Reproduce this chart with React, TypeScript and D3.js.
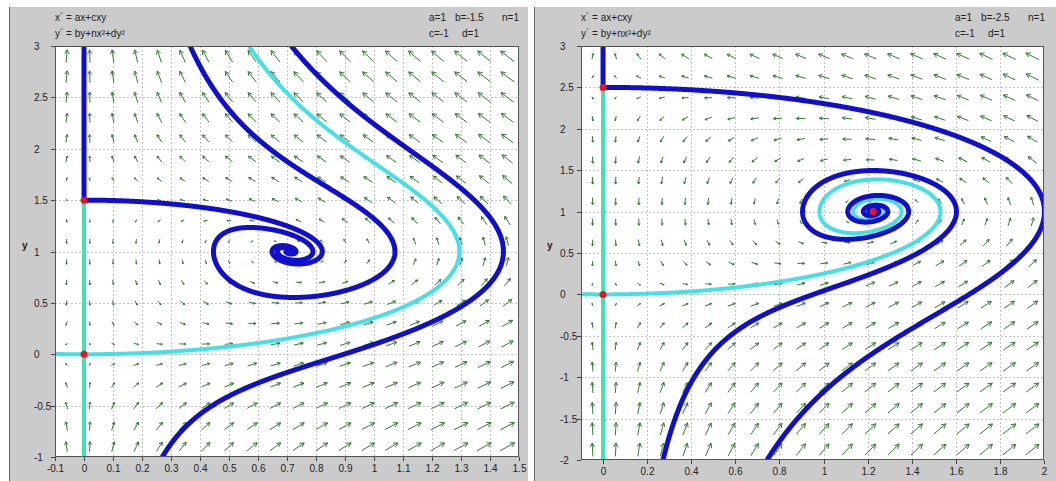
import React, { useRef, useEffect } from "react";
import * as d3 from "d3";

const W = 1056;
const H = 481;

// model: x' = ax + cxy, y' = by + nx^2 + dy^2   -> [a, b, n, c, d]
const leftParams = [1, -1.5, 1, -1, 1];
const rightParams = [1, -2.5, 1, -1, 1];

const leftXDomain = [-0.1, 1.5];
const leftYDomain = [-1, 3];
const rightXDomain = [-0.1, 2];
const rightYDomain = [-2, 3];

const leftXTicks = [-0.1, 0, 0.1, 0.2, 0.3, 0.4, 0.5, 0.6, 0.7, 0.8, 0.9, 1, 1.1, 1.2, 1.3, 1.4, 1.5];
const leftYTicks = [-1, -0.5, 0, 0.5, 1, 1.5, 2, 2.5, 3];
const rightXTicks = [0, 0.2, 0.4, 0.6, 0.8, 1, 1.2, 1.4, 1.6, 1.8, 2];
const rightYTicks = [-2, -1.5, -1, -0.5, 0, 0.5, 1, 1.5, 2, 2.5, 3];

// equilibria marked with red dots
const leftEquilibria = [[0, 0], [0, 1.5]];
const rightEquilibria = [[0, 0], [0, 2.5], [1.2247, 1]];

// invariant line x = 0 drawn in mint
const leftAxisLine = [[0, -1], [0, 1.5]];
const rightAxisLine = [[0, -2], [0, 2.5]];

// trajectory seeds: [x, y, colour kind, direction]
const leftSeeds: [number, number, string, string][] = [
  [-0.0005, 0, "cyan", "fwd"],
  [0.0005, 0, "cyan", "fwd"],
  [0.003, 1.5, "blue", "both"],
  [0.366, 3, "blue", "both"],
  [0.27, -1, "blue", "both"],
];
const rightSeeds: [number, number, string, string][] = [
  [-0.0005, 0, "cyan", "fwd"],
  [0.0005, 0, "cyan", "fwd"],
  [0.003, 2.5, "blue", "both"],
  [0.272, -2, "blue", "both"],
];

const leftLabels = ["a=1", "b=-1.5", "n=1", "c=-1", "d=1"];
const rightLabels = ["a=1", "b=-2.5", "n=1", "c=-1", "d=1"];

const FONT = "'Liberation Sans', Arial, sans-serif";
const colors: Record<string, string> = { blue: "#1010cc", cyan: "#45dfe6" };

type Panel = {
  bx0: number; bx1: number;
  px0: number; px1: number; py0: number; py1: number;
  params: number[]; xd: number[]; yd: number[];
  xt: number[]; yt: number[]; eq: number[][]; axisLine: number[][];
  seeds: [number, number, string, string][]; labels: string[];
  id: string;
};

const panels: Panel[] = [
  {
    bx0: 9, bx1: 528, px0: 55, px1: 519, py0: 46, py1: 457,
    params: leftParams, xd: leftXDomain, yd: leftYDomain, xt: leftXTicks, yt: leftYTicks,
    eq: leftEquilibria, axisLine: leftAxisLine, seeds: leftSeeds, labels: leftLabels, id: "l",
  },
  {
    bx0: 534, bx1: 1056, px0: 581, px1: 1044, py0: 46, py1: 460,
    params: rightParams, xd: rightXDomain, yd: rightYDomain, xt: rightXTicks, yt: rightYTicks,
    eq: rightEquilibria, axisLine: rightAxisLine, seeds: rightSeeds, labels: rightLabels, id: "r",
  },
];

const field = (p: number[]) => (x: number, y: number) => {
  const [a, b, n, c, d] = p;
  return [a * x + c * x * y, b * y + n * x * x + d * y * y];
};

function integrate(f: (x: number, y: number) => number[], x0: number, y0: number, dir: number,
  sx: number, sy: number, xd: number[], yd: number[]) {
  const pts: [number, number][] = [[x0, y0]];
  let x = x0, y = y0, t = 0;
  const xr = xd[1] - xd[0], yr = yd[1] - yd[0];
  for (let i = 0; i < 100000 && t < 60; i++) {
    const k1 = f(x, y);
    const sp = Math.hypot(k1[0] * sx, k1[1] * sy);
    if (sp < 1e-7) break;
    const h = Math.min(0.01, 0.5 / sp) * dir;
    const k2 = f(x + (h / 2) * k1[0], y + (h / 2) * k1[1]);
    const k3 = f(x + (h / 2) * k2[0], y + (h / 2) * k2[1]);
    const k4 = f(x + h * k3[0], y + h * k3[1]);
    x += (h / 6) * (k1[0] + 2 * k2[0] + 2 * k3[0] + k4[0]);
    y += (h / 6) * (k1[1] + 2 * k2[1] + 2 * k3[1] + k4[1]);
    t += Math.abs(h);
    pts.push([x, y]);
    if (x < xd[0] - 0.3 * xr || x > xd[1] + 0.3 * xr || y < yd[0] - 0.3 * yr || y > yd[1] + 0.3 * yr) break;
  }
  return pts;
}

const fmt = (v: number) => String(+v.toFixed(1));

const App = () => {
  const svgRef = useRef<SVGSVGElement>(null);

  useEffect(() => {
    const svg = d3.select(svgRef.current);
    svg.selectAll("*").remove();
    svg.append("rect").attr("width", W).attr("height", H).attr("fill", "#fff");

    panels.forEach((P) => {
      const g = svg.append("g");
      const f = field(P.params);
      const x = d3.scaleLinear().domain(P.xd).range([P.px0, P.px1]);
      const y = d3.scaleLinear().domain(P.yd).range([P.py1, P.py0]);
      const sx = (P.px1 - P.px0) / (P.xd[1] - P.xd[0]);
      const sy = (P.py1 - P.py0) / (P.yd[1] - P.yd[0]);

      // panel background
      g.append("rect").attr("x", P.bx0).attr("y", 7).attr("width", P.bx1 - P.bx0).attr("height", H - 7)
        .attr("fill", "#cbcbcb");
      g.append("line").attr("x1", P.bx0 + 0.5).attr("x2", P.bx0 + 0.5).attr("y1", 7).attr("y2", H)
        .attr("stroke", "#6a6a6a");

      // equations and parameters
      const txt = g.append("g").attr("font-family", FONT).attr("font-size", 10).attr("fill", "#222");
      txt.append("text").attr("x", P.px0).attr("y", 21).text("x\u00b4 = ax+cxy");
      txt.append("text").attr("x", P.px0).attr("y", 37).text("y\u00b4 = by+nx\u00b2+dy\u00b2");
      const pxs = [374, 400, 447, 374, 407];
      P.labels.forEach((l, i) => {
        txt.append("text").attr("x", P.px0 + pxs[i]).attr("y", i < 3 ? 21 : 37).text(l);
      });

      // plot area
      g.append("rect").attr("x", P.px0).attr("y", P.py0).attr("width", P.px1 - P.px0).attr("height", P.py1 - P.py0)
        .attr("fill", "#fff");

      // grid
      const grid = g.append("g").attr("stroke", "#c4c4c4").attr("stroke-dasharray", "2,2").attr("stroke-width", 1);
      grid.selectAll("line.gx").data(P.xt).join("line")
        .attr("x1", (d) => Math.round(x(d)) + 0.5).attr("x2", (d) => Math.round(x(d)) + 0.5)
        .attr("y1", P.py0).attr("y2", P.py1);
      grid.selectAll("line.gy").data(P.yt).join("line")
        .attr("y1", (d) => Math.round(y(d)) + 0.5).attr("y2", (d) => Math.round(y(d)) + 0.5)
        .attr("x1", P.px0).attr("x2", P.px1);

      // direction field
      const nc = 20, nr = 20;
      const cells: { cx: number; cy: number; u: number; v: number; m: number }[] = [];
      for (let i = 0; i < nc; i++) {
        for (let j = 0; j < nr; j++) {
          const xv = P.xd[0] + ((i + 0.5) * (P.xd[1] - P.xd[0])) / nc;
          const yv = P.yd[0] + ((j + 0.5) * (P.yd[1] - P.yd[0])) / nr;
          const [du, dv] = f(xv, yv);
          const u = du * sx, v = -dv * sy;
          cells.push({ cx: x(xv), cy: y(yv), u, v, m: Math.hypot(u, v) });
        }
      }
      const M = d3.max(cells, (c) => c.m) as number;
      const K = 30, Lmax = 17;
      const arrowPath = cells.map((c) => {
        if (c.m < 1e-9) return "";
        const L = (Lmax * Math.log(1 + c.m / K)) / Math.log(1 + M / K);
        const ux = c.u / c.m, uy = c.v / c.m;
        const x1 = c.cx - (ux * L) / 2, y1 = c.cy - (uy * L) / 2;
        const x2 = c.cx + (ux * L) / 2, y2 = c.cy + (uy * L) / 2;
        const hl = Math.max(1.2, Math.min(5, L * 0.35));
        const ang = Math.atan2(uy, ux), a0 = 0.5;
        const hx1 = x2 - hl * Math.cos(ang - a0), hy1 = y2 - hl * Math.sin(ang - a0);
        const hx2 = x2 - hl * Math.cos(ang + a0), hy2 = y2 - hl * Math.sin(ang + a0);
        return `M${x1},${y1}L${x2},${y2}M${hx1},${hy1}L${x2},${y2}L${hx2},${hy2}`;
      }).join("");
      g.append("path").attr("d", arrowPath).attr("fill", "none").attr("stroke", "#2f7d2f").attr("stroke-width", 1);

      // trajectories
      const clipId = "clip-" + P.id;
      g.append("clipPath").attr("id", clipId).append("rect")
        .attr("x", P.px0).attr("y", P.py0).attr("width", P.px1 - P.px0).attr("height", P.py1 - P.py0);
      const tg = g.append("g").attr("clip-path", `url(#${clipId})`);
      const line = d3.line<number[]>().x((d) => x(d[0])).y((d) => y(d[1]));

      tg.append("path").attr("d", line(P.axisLine)).attr("stroke", "#3ee3ae").attr("stroke-width", 4).attr("fill", "none");

      const ordered = [...P.seeds].sort((a, b) => (a[2] === "cyan" ? -1 : 1) - (b[2] === "cyan" ? -1 : 1));
      ordered.forEach(([sx0, sy0, kind, dir]) => {
        let pts: [number, number][];
        const fwd = integrate(f, sx0, sy0, 1, sx, sy, P.xd, P.yd);
        if (dir === "both") {
          const back = integrate(f, sx0, sy0, -1, sx, sy, P.xd, P.yd).reverse();
          pts = back.concat(fwd.slice(1));
        } else pts = fwd;
        tg.append("path").attr("d", line(pts)).attr("fill", "none")
          .attr("stroke", colors[kind]).attr("stroke-width", kind === "cyan" ? 4 : 5)
          .attr("stroke-linejoin", "round").attr("stroke-linecap", "round");
      });

      // equilibria
      g.selectAll("circle.eq").data(P.eq).join("circle")
        .attr("cx", (d) => x(d[0])).attr("cy", (d) => y(d[1])).attr("r", 3.5).attr("fill", "#e8141e");

      // frame + ticks
      g.append("rect").attr("x", P.px0 + 0.5).attr("y", P.py0 + 0.5).attr("width", P.px1 - P.px0 - 1)
        .attr("height", P.py1 - P.py0 - 1).attr("fill", "none").attr("stroke", "#555");
      const ax = g.append("g").attr("font-family", FONT).attr("font-size", 10).attr("fill", "#222");
      P.xt.forEach((t) => {
        const xp = Math.round(x(t)) + 0.5;
        ax.append("line").attr("x1", xp).attr("x2", xp).attr("y1", P.py1).attr("y2", P.py1 + 4).attr("stroke", "#444");
        ax.append("text").attr("x", xp).attr("y", P.py1 + 15).attr("text-anchor", "middle").text(fmt(t));
      });
      P.yt.forEach((t) => {
        const yp = Math.round(y(t)) + 0.5;
        ax.append("line").attr("x1", P.px0 - 4).attr("x2", P.px0).attr("y1", yp).attr("y2", yp).attr("stroke", "#444");
        ax.append("text").attr("x", P.px0 - 21).attr("y", yp).attr("dy", "0.35em").text(fmt(t));
      });
      ax.append("text").attr("x", P.bx0 + 13).attr("y", 249).attr("font-weight", "bold").text("y");
    });
  }, []);

  return (
    <svg ref={svgRef} width={W} height={H} style={{ position: "absolute", left: 0, top: 0 }}></svg>
  );
};

export default App;
